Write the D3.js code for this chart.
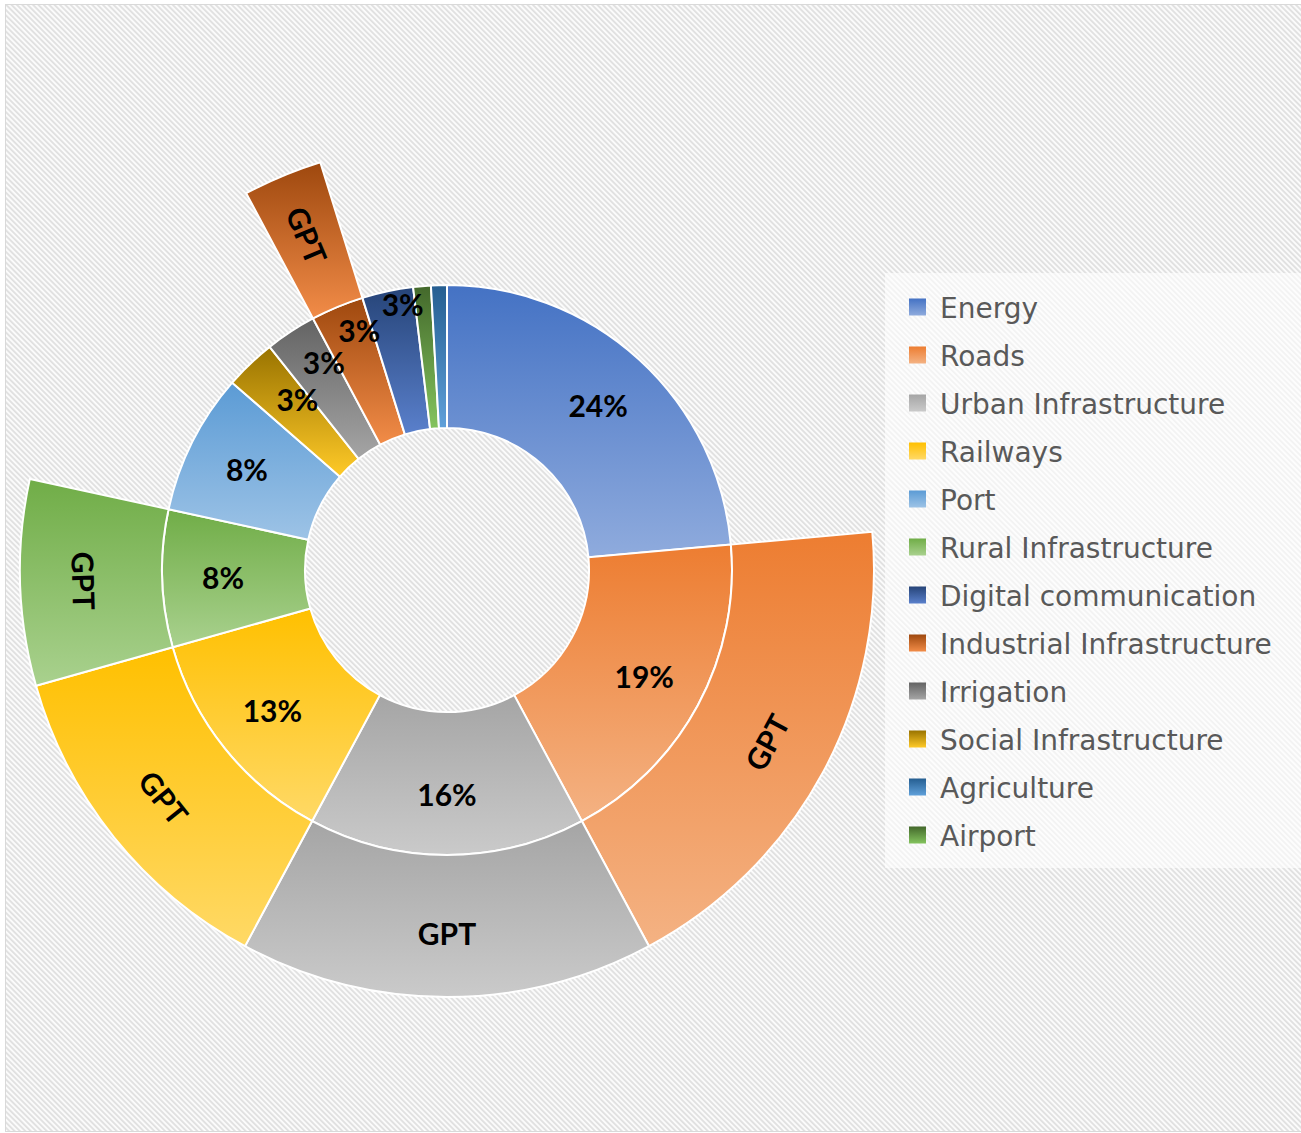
<!DOCTYPE html>
<html>
<head>
  <meta charset="utf-8">
  <title>sunburst</title>
  <style>
    body { margin: 0; background: #fff; }
    .lbl { font-family: Lato, "Open Sans", sans-serif; font-weight: 700; font-size: 30px; fill: #000; }
    .legend text { font-family: "DejaVu Sans", sans-serif; font-size: 28px; fill: #595959; }
  </style>
  <script src="https://cdn.jsdelivr.net/npm/d3@7"></script>
</head>
<body>
<script>

  // inner ring, clockwise from 12 o'clock
  var categories = ["Energy", "Roads", "Urban Infrastructure", "Railways", "Rural Infrastructure", "Port",
                    "Social Infrastructure", "Irrigation", "Industrial Infrastructure", "Digital communication",
                    "Airport", "Agriculture"];
  var shares = [23.6, 18.6, 15.7, 12.8, 7.8, 8.0, 2.9, 2.9, 3.0, 2.9, 1.0, 0.9];

  // outer ring: categories that carry a GPT share
  var gptParents = ["Roads", "Urban Infrastructure", "Railways", "Rural Infrastructure", "Industrial Infrastructure"];
  var gptLabel = "GPT";

  var legendOrder = ["Energy", "Roads", "Urban Infrastructure", "Railways", "Port", "Rural Infrastructure",
                     "Digital communication", "Industrial Infrastructure", "Irrigation", "Social Infrastructure",
                     "Agriculture", "Airport"];

  // gradient top / bottom colour per category
  var colours = {
    "Energy": ["#4472c4", "#8fabdd"],
    "Roads": ["#ed7d31", "#f4b283"],
    "Urban Infrastructure": ["#a5a5a5", "#cacaca"],
    "Railways": ["#ffc000", "#ffd966"],
    "Port": ["#5b9bd5", "#9dc3e6"],
    "Rural Infrastructure": ["#70ad47", "#a9d18e"],
    "Digital communication": ["#264478", "#5a80cc"],
    "Industrial Infrastructure": ["#9e480e", "#f28c48"],
    "Irrigation": ["#636363", "#a5a5a5"],
    "Social Infrastructure": ["#997300", "#ffca28"],
    "Agriculture": ["#255e91", "#5fa0da"],
    "Airport": ["#43682b", "#84c45e"]
  };

  var width = 1301, height = 1133;
  var cx = 447, cy = 570;

  var svg = d3.select("body").append("svg")
    .attr("width", width)
    .attr("height", height);

  var defs = svg.append("defs");

  // diagonal hatch of the chart area
  var pat = defs.append("pattern")
    .attr("id", "hatch")
    .attr("patternUnits", "userSpaceOnUse")
    .attr("width", 3.8).attr("height", 3.8)
    .attr("patternTransform", "rotate(-45)");
  pat.append("rect").attr("width", 3.8).attr("height", 3.8).attr("fill", "#fbfbfb");
  pat.append("rect").attr("width", 1.8).attr("height", 3.8).attr("fill", "#e0e0e0");

  svg.append("rect")
    .attr("x", 5.5).attr("y", 4.5)
    .attr("width", 1300).attr("height", 1127)
    .attr("fill", "url(#hatch)")
    .attr("stroke", "#d9d9d9");

  categories.forEach(function(c, i) {
    var g = defs.append("linearGradient")
      .attr("id", "grad" + i)
      .attr("x1", 0).attr("y1", 0).attr("x2", 0).attr("y2", 1);
    g.append("stop").attr("offset", "0%").attr("stop-color", colours[c][0]);
    g.append("stop").attr("offset", "100%").attr("stop-color", colours[c][1]);
  });

  // hierarchy: root -> category -> GPT
  var rootData = {
    name: "root",
    children: categories.map(function(c, i) {
      var node = { name: c, share: shares[i] };
      if (gptParents.indexOf(c) >= 0) node.children = [{ name: gptLabel, share: shares[i] }];
      return node;
    })
  };

  var root = d3.hierarchy(rootData).sum(function(d) { return d.children ? 0 : d.share; });
  d3.partition().size([2 * Math.PI, 3])(root);

  var r = d3.scaleLinear().domain([1, 2, 3]).range([142, 285, 427]);

  var arc = d3.arc()
    .startAngle(function(d) { return d.x0; })
    .endAngle(function(d) { return d.x1; })
    .innerRadius(function(d) { return r(d.y0); })
    .outerRadius(function(d) { return r(d.y1); });

  function catIndex(d) {
    return categories.indexOf(d.depth === 1 ? d.data.name : d.parent.data.name);
  }

  var g = svg.append("g").attr("transform", "translate(" + cx + "," + cy + ")");

  var nodes = root.descendants().filter(function(d) { return d.depth > 0; });

  g.selectAll("path")
    .data(nodes)
    .enter()
    .append("path")
      .attr("d", arc)
      .attr("fill", function(d) { return "url(#grad" + catIndex(d) + ")"; })
      .attr("stroke", "#fff")
      .attr("stroke-width", 2);

  // percentage labels on the inner ring
  var inner = root.children;
  var smallCount = 0;
  inner.forEach(function(d) {
    var span = d.x1 - d.x0;
    if (span < 0.1) return;
    var mid = (d.x0 + d.x1) / 2;
    var rr = 224;
    if (span < 0.25) {           // narrow slices: labels stepped outward
      rr = r(1.5) + 14 + 14 * smallCount;
      mid += 0.045;
      smallCount++;
    }
    var pct = Math.round(d.value / root.value * 100);
    g.append("text")
      .attr("class", "lbl")
      .attr("x", rr * Math.sin(mid))
      .attr("y", -rr * Math.cos(mid))
      .attr("text-anchor", "middle")
      .attr("dominant-baseline", "central")
      .text(pct + "%");
  });

  // GPT labels on the outer ring
  root.leaves().filter(function(d) { return d.depth === 2; }).forEach(function(d) {
    var mid = (d.x0 + d.x1) / 2;
    var rm = r(2.5) + 7;
    var a = mid * 180 / Math.PI;
    var rot;
    if (rm * (d.x1 - d.x0) > 90) {
      rot = (a > 90 && a < 270) ? a - 180 : (a >= 270 ? a - 360 : a);   // along the ring
    } else {
      rot = a < 180 ? a - 90 : a - 270;                               // radial
    }
    g.append("text")
      .attr("class", "lbl")
      .attr("text-anchor", "middle")
      .attr("dominant-baseline", "central")
      .attr("transform", "translate(" + (rm * Math.sin(mid)) + "," + (-rm * Math.cos(mid)) + ") rotate(" + rot + ")")
      .text(d.data.name);
  });

  // legend
  var legend = svg.append("g").attr("class", "legend");
  legend.append("rect")
    .attr("x", 885).attr("y", 273)
    .attr("width", 420).attr("height", 595)
    .attr("fill", "#fff")
    .attr("fill-opacity", 0.6);

  var ly = d3.scalePoint().domain(legendOrder).range([307, 835]);

  var items = legend.selectAll(".item")
    .data(legendOrder)
    .enter()
    .append("g")
      .attr("class", "item")
      .attr("transform", function(d) { return "translate(909," + ly(d) + ")"; });

  items.append("rect")
    .attr("x", 0).attr("y", -8.5)
    .attr("width", 17).attr("height", 17)
    .attr("fill", function(d) { return "url(#grad" + categories.indexOf(d) + ")"; });

  items.append("text")
    .attr("x", 31).attr("y", 1)
    .attr("dominant-baseline", "central")
    .text(function(d) { return d; });

</script>
</body>
</html>
